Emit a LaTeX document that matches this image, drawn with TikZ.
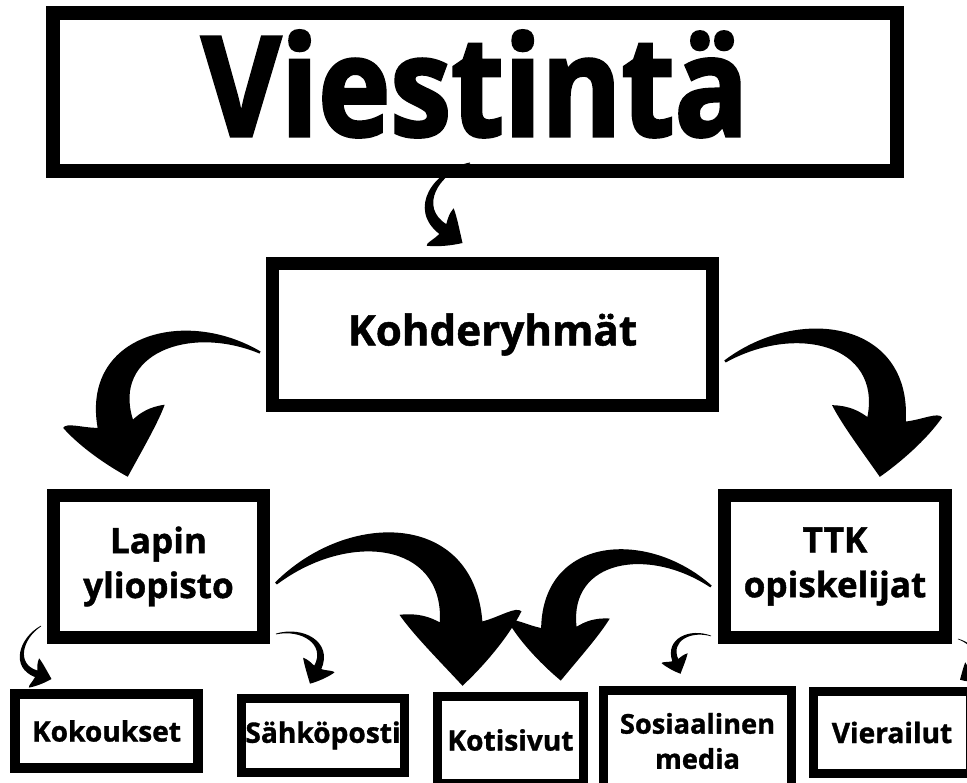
\documentclass[tikz,border=0pt]{standalone}
\usepackage{fontspec}
\setmainfont{Open Sans}[BoldFeatures={FakeBold=1.2}]
\newfontfamily\heavyfont{Open Sans}[UprightFont=* Bold, FakeBold=2.2, FakeStretch=0.88]
\usetikzlibrary{calc}

\tikzset{
  titlebox/.style={draw=black, line width=0.28cm, inner sep=0pt, text depth=0.35cm, font=\heavyfont\fontsize{79}{79}\selectfont},
  groupbox/.style={draw=black, line width=0.26cm, inner sep=0pt, align=center, font=\bfseries\fontsize{20}{25.5}\selectfont},
  channel/.style={draw=black, line width=0.19cm, inner sep=0pt, align=center, font=\bfseries\fontsize{16}{20}\selectfont},
  brush/.style={fill=black},
}

% brush stroke arrow: [#1 body width], #2 tail, #3 tip, #4 side of the bulge (1 or -1)
\newcommand\brusharrow[4][0.1]{%
  \path (#2); \pgfgetlastxy{\brAx}{\brAy}
  \path (#3); \pgfgetlastxy{\brBx}{\brBy}
  \pgfmathsetmacro\brAng{atan2(\brBy-\brAy,\brBx-\brAx)}
  \pgfmathsetmacro\brLen{veclen(\brBx-\brAx,\brBy-\brAy)}
  \pgfmathsetmacro\brSide{#4*\brLen}
  \def\brW{#1}
  \begin{scope}[shift={(#2)}, rotate=\brAng, x=\brLen pt, y=\brSide pt]
    \fill[brush] (-0.006,0.002)
      .. controls ({0.154-0.25*\brW},{0.423+0.433*\brW}) and ({0.625+0.259*\brW},{0.65+0.966*\brW})
      .. ({0.85+0.866*\brW},{0.26+0.5*\brW})
      .. controls (1.0,0.37) and (1.04,0.45) .. (1.075,0.44)
      .. controls (1.08,0.3) and (1.04,0.12) .. (1,0)
      .. controls (0.85,0.05) and (0.68,0.1) .. (0.58,0.15)
      .. controls (0.65,0.2) and (0.71,0.21) .. ({0.85-0.866*\brW},{0.26-0.5*\brW})
      .. controls ({0.625-0.259*\brW},{0.65-0.966*\brW}) and ({0.154+0.25*\brW},{0.423-0.433*\brW})
      .. (0.006,-0.002) -- cycle;
  \end{scope}
}

\begin{document}
\begin{tikzpicture}[x=0.02cm, y=-0.02cm]
  \useasboundingbox (0,0) rectangle (967,783);
  \clip (0,0) rectangle (967,783);

  % boxes
  \node[titlebox, minimum width=16.9cm, minimum height=3.16cm] (title) at (475,92) {Viestintä};
  \node[groupbox, minimum width=8.8cm, minimum height=2.84cm, font=\bfseries\fontsize{24}{24}\selectfont] (kohde) at (492.5,334.5) {Kohderyhmät};
  \node[groupbox, minimum width=4.2cm, minimum height=2.84cm] (lapin) at (158.5,566.5) {Lapin\\yliopisto};
  \node[groupbox, minimum width=4.42cm, minimum height=2.84cm] (ttk) at (835,566.5) {TTK\\opiskelijat};

  \node[channel, minimum width=3.66cm, minimum height=1.48cm, line width=0.2cm] (kokous) at (106.5,731) {Kokoukset};
  \node[channel, minimum width=3.26cm, minimum height=1.48cm] (posti) at (323,735.5) {Sähköposti};
  \node[channel, minimum width=2.92cm, minimum height=1.74cm] (koti) at (510.5,740) {Kotisivut};
  \node[channel, minimum width=3.76cm, minimum height=2.02cm, font=\bfseries\fontsize{15.5}{20}\selectfont] (some) at (697.5,741) {Sosiaalinen\\media};
  \node[channel, minimum width=3.14cm, minimum height=1.64cm] (vieras) at (892,732.5) {Vierailut};

  % arrows
  \brusharrow[0.075]{$(title.south)+(-5,-15)$}{$(kohde.north)+(-30,-14)$}{-1}
  \brusharrow{$(kohde.west)+(-6,18)$}{$(lapin.north)+(-31,-12)$}{-1}
  \brusharrow{$(kohde.east)+(6,27)$}{$(ttk.north)+(45,-12)$}{1}
  \brusharrow{$(lapin.east)+(6,17)$}{$(koti.north)+(-48,-6)$}{1}
  \brusharrow{$(ttk.west)+(-7,20)$}{$(koti.north)+(50,-11)$}{-1}
  \brusharrow[0.065]{$(lapin.south west)+(-6,-18)$}{$(kokous.north)+(-55,-10)$}{-1}
  \brusharrow[0.065]{$(lapin.south east)+(6,-10)$}{$(posti.north)+(-13,-10)$}{1}
  \brusharrow[0.065]{$(ttk.south west)+(-7,-8)$}{$(some.north)+(-17,-12)$}{-1}
  \brusharrow[0.065]{$(ttk.south east)+(6,-5)$}{$(vieras.north)+(68,-7)$}{1}
\end{tikzpicture}
\end{document}
